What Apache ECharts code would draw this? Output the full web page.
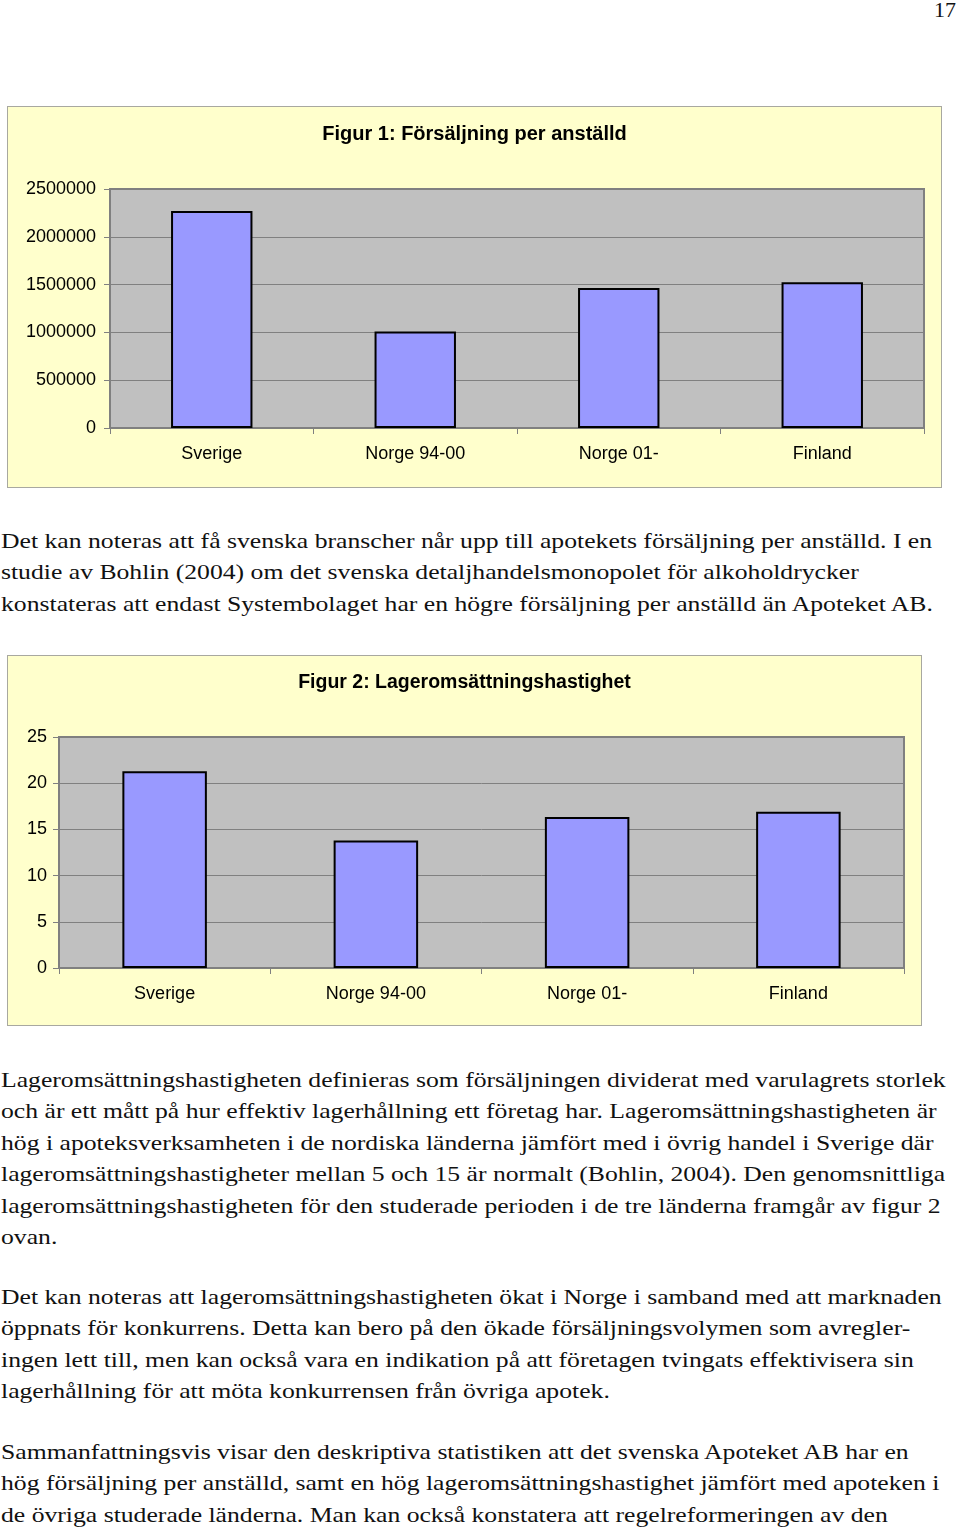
<!DOCTYPE html>
<html>
<head>
<meta charset="utf-8">
<script src="https://cdn.jsdelivr.net/npm/echarts@6/dist/echarts.min.js"></script>
<style>
  html, body { margin: 0; padding: 0; background: #ffffff; }
  body { width: 960px; height: 1531px; position: relative; overflow: hidden; }
  .chartbox { position: absolute; background: #FFFFCC; outline: 1px solid #a8a8a0; }
  .para { position: absolute; left: 1px; font-family: "Liberation Serif", "DejaVu Serif", serif; font-size: 22px; line-height: 31.4px; color: #111; white-space: nowrap; transform: scaleX(1.167); transform-origin: 0 0; }
  #pageno { position: absolute; left: 934px; top: -3px; font-family: "Liberation Serif", serif; font-size: 22px; color: #111; }
</style>
</head>
<body>
<div id="pageno">17</div>
<div id="c1" class="chartbox" style="left:8px; top:107px; width:933px; height:380px;"></div>
<div class="para" style="top:525px;">Det kan noteras att få svenska branscher når upp till apotekets försäljning per anställd. I en<br>studie av Bohlin (2004) om det svenska detaljhandelsmonopolet för alkoholdrycker<br>konstateras att endast Systembolaget har en högre försäljning per anställd än Apoteket AB.</div>
<div id="c2" class="chartbox" style="left:8px; top:656px; width:913px; height:369px;"></div>
<div class="para" style="top:1064px;">Lageromsättningshastigheten definieras som försäljningen dividerat med varulagrets storlek<br>och är ett mått på hur effektiv lagerhållning ett företag har. Lageromsättningshastigheten är<br>hög i apoteksverksamheten i de nordiska länderna jämfört med i övrig handel i Sverige där<br>lageromsättningshastigheter mellan 5 och 15 är normalt (Bohlin, 2004). Den genomsnittliga<br>lageromsättningshastigheten för den studerade perioden i de tre länderna framgår av figur 2<br>ovan.</div>
<div class="para" style="top:1281px;">Det kan noteras att lageromsättningshastigheten ökat i Norge i samband med att marknaden<br>öppnats för konkurrens. Detta kan bero på den ökade försäljningsvolymen som avregler-<br>ingen lett till, men kan också vara en indikation på att företagen tvingats effektivisera sin<br>lagerhållning för att möta konkurrensen från övriga apotek.</div>
<div class="para" style="top:1436px;">Sammanfattningsvis visar den deskriptiva statistiken att det svenska Apoteket AB har en<br>hög försäljning per anställd, samt en hög lageromsättningshastighet jämfört med apoteken i<br>de övriga studerade länderna. Man kan också konstatera att regelreformeringen av den</div>
<script>
const categories = ["Sverige", "Norge 94-00", "Norge 01-", "Finland"];
const salesPerEmployee = [2270000, 1010000, 1465000, 1525000];
const turnoverRate = [21.3, 13.8, 16.35, 16.9];
const fig1Title = "Figur 1: Försäljning per anställd";
const fig2Title = "Figur 2: Lageromsättningshastighet";
const fig1Ticks = { min: 0, max: 2500000, interval: 500000 };
const fig2Ticks = { min: 0, max: 25, interval: 5 };

const FONT = "'Liberation Sans', Arial, sans-serif";

function makeOption(title, values, ticks, grid, yLabelMargin, titleSize) {
  return {
    animation: false,
    title: {
      text: title, left: 'center', top: 12,
      textStyle: { fontFamily: FONT, fontSize: titleSize, fontWeight: 'bold', color: '#000' }
    },
    grid: Object.assign({
      show: true, backgroundColor: '#C0C0C0', borderColor: '#808080', borderWidth: 2
    }, grid),
    xAxis: {
      type: 'category', data: categories,
      axisLine: { show: true, lineStyle: { color: '#808080', width: 2 } },
      axisTick: { show: true, alignWithLabel: false, length: 6, lineStyle: { color: '#808080' } },
      axisLabel: { fontFamily: FONT, fontSize: 18, color: '#000', margin: 17 }
    },
    yAxis: {
      type: 'value', min: ticks.min, max: ticks.max, interval: ticks.interval,
      axisLine: { show: true, lineStyle: { color: '#808080', width: 2 } },
      axisTick: { show: true, length: 6, lineStyle: { color: '#808080' } },
      axisLabel: { fontFamily: FONT, fontSize: 18, color: '#000', margin: yLabelMargin,
                   formatter: function (v) { return String(v); } },
      splitLine: { show: true, lineStyle: { color: '#808080', width: 1 } }
    },
    series: [{
      type: 'bar', data: values, barWidth: '40%',
      itemStyle: { color: '#9999FF', borderColor: '#000', borderWidth: 2 }
    }]
  };
}

const c1 = echarts.init(document.getElementById('c1'), null, { renderer: 'canvas' });
c1.setOption(makeOption(fig1Title, salesPerEmployee, fig1Ticks, { left: 102, right: 17, top: 82, bottom: 59 }, 14, 20));
const c2 = echarts.init(document.getElementById('c2'), null, { renderer: 'canvas' });
c2.setOption(makeOption(fig2Title, turnoverRate, fig2Ticks, { left: 51, right: 17, top: 81, bottom: 57 }, 12, 19.5));
</script>
</body>
</html>
